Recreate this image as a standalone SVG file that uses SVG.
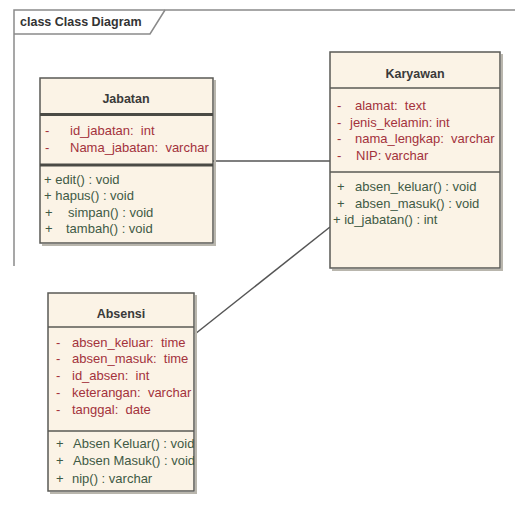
<svg xmlns="http://www.w3.org/2000/svg" width="515" height="518" viewBox="0 0 515 518">
  <style>
    .frame { fill: none; stroke: #8a8a8a; stroke-width: 1.5; }
    .box { fill: #fbf3e6; stroke: #5a5a55; stroke-width: 1.5; }
    .shadow { fill: none; stroke: #b9b6ad; stroke-width: 2; }
    .div { stroke: #5a5a55; stroke-width: 1.5; }
    .div-thick { stroke: #4a4a45; stroke-width: 3; }
    .title { font-family: "Liberation Sans", Arial, sans-serif; font-size: 12.5px; font-weight: bold; fill: #3a3a3a; text-anchor: middle; }
    .attr { font-family: "Liberation Sans", Arial, sans-serif; font-size: 13px; fill: #a3323c; white-space: pre; }
    .op { font-family: "Liberation Sans", Arial, sans-serif; font-size: 13px; fill: #3f5a45; white-space: pre; }
    .conn { fill: none; stroke: #555; stroke-width: 1.5; }
    .label { font-family: "Liberation Sans", Arial, sans-serif; font-size: 12.5px; font-weight: bold; fill: #333; }
  </style>
  <defs>
    <clipPath id="clipAbsensi"><rect x="48" y="293" width="146" height="198"/></clipPath>
  </defs>
  <rect width="515" height="518" fill="#ffffff"/>

  <!-- diagram frame with name tab -->
  <g id="frame">
    <path class="frame" d="M515 10 H14 V266"/>
    <path class="frame" d="M14 34 H150 L165 10"/>
    <text class="label" x="20" y="26">class Class Diagram</text>
  </g>

  <!-- associations -->
  <g id="connectors">
    <line class="conn" x1="213" y1="161" x2="330" y2="161"/>
    <line class="conn" x1="330" y1="227" x2="195" y2="334"/>
  </g>

  <!-- Jabatan -->
  <g id="jabatan">
    <path class="shadow" d="M42 245 H215 V80"/>
    <rect class="box" x="40" y="78" width="173" height="165"/>
    <text class="title" x="126" y="103">Jabatan</text>
    <line class="div-thick" x1="40" y1="114.5" x2="213" y2="114.5"/>
    <text class="attr" x="45" y="135">-</text>
    <text class="attr" x="70" y="135">id_jabatan:  int</text>
    <text class="attr" x="45" y="152">-</text>
    <text class="attr" x="70" y="152">Nama_jabatan:  varchar</text>
    <line class="div-thick" x1="40" y1="165" x2="213" y2="165"/>
    <text class="op" x="44" y="184">+ edit() : void</text>
    <text class="op" x="44" y="200">+ hapus() : void</text>
    <text class="op" x="45" y="217">+</text>
    <text class="op" x="68" y="217">simpan() : void</text>
    <text class="op" x="45" y="233">+</text>
    <text class="op" x="66" y="233">tambah() : void</text>
  </g>

  <!-- Karyawan -->
  <g id="karyawan">
    <path class="shadow" d="M332 270 H502 V54"/>
    <rect class="box" x="330" y="52" width="170" height="216"/>
    <text class="title" x="415" y="78">Karyawan</text>
    <line class="div" x1="330" y1="88" x2="500" y2="88"/>
    <text class="attr" x="337" y="110">-</text>
    <text class="attr" x="355" y="110">alamat:  text</text>
    <text class="attr" x="337" y="127">-</text>
    <text class="attr" x="350" y="127">jenis_kelamin: int</text>
    <text class="attr" x="337" y="143">-</text>
    <text class="attr" x="355" y="143">nama_lengkap:  varchar</text>
    <text class="attr" x="337" y="160">-</text>
    <text class="attr" x="356" y="160">NIP: varchar</text>
    <line class="div" x1="330" y1="172" x2="500" y2="172"/>
    <text class="op" x="337" y="191">+</text>
    <text class="op" x="355" y="191">absen_keluar() : void</text>
    <text class="op" x="337" y="208">+</text>
    <text class="op" x="355" y="208">absen_masuk() : void</text>
    <text class="op" x="333" y="224">+ id_jabatan() : int</text>
  </g>

  <!-- Absensi -->
  <g id="absensi">
    <path class="shadow" d="M50 493 H196 V295"/>
    <rect class="box" x="48" y="293" width="146" height="198"/>
    <text class="title" x="121" y="318">Absensi</text>
    <line class="div" x1="48" y1="327" x2="194" y2="327"/>
    <g clip-path="url(#clipAbsensi)">
      <text class="attr" x="56" y="347">-</text>
      <text class="attr" x="72" y="347">absen_keluar:  time</text>
      <text class="attr" x="56" y="363">-</text>
      <text class="attr" x="72" y="363">absen_masuk:  time</text>
      <text class="attr" x="56" y="380">-</text>
      <text class="attr" x="72" y="380">id_absen:  int</text>
      <text class="attr" x="56" y="397">-</text>
      <text class="attr" x="72" y="397">keterangan:  varchar</text>
      <text class="attr" x="56" y="414">-</text>
      <text class="attr" x="72" y="414">tanggal:  date</text>
      <text class="op" x="56" y="448">+</text>
      <text class="op" x="73" y="448">Absen Keluar() : void</text>
      <text class="op" x="56" y="465">+</text>
      <text class="op" x="73" y="465">Absen Masuk() : void</text>
      <text class="op" x="56" y="483">+</text>
      <text class="op" x="72" y="483">nip() : varchar</text>
    </g>
    <line class="div" x1="48" y1="431" x2="194" y2="431"/>
  </g>
</svg>
